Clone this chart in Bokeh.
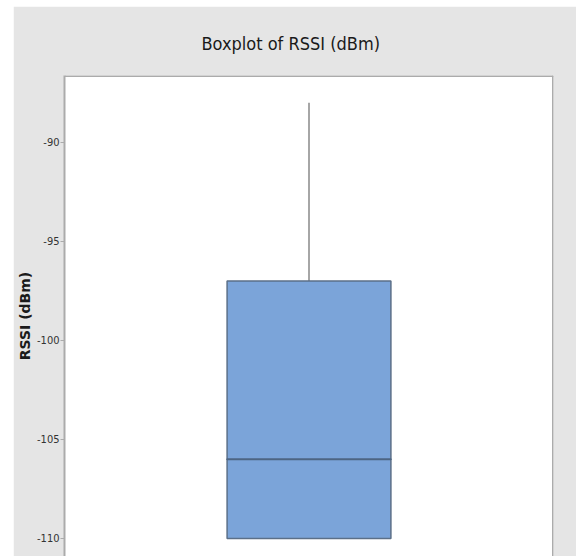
from bokeh.plotting import figure
from bokeh.models import Range1d, FixedTicker, Span, ColumnDataSource, PrintfTickFormatter
from bokeh.embed import file_html
from bokeh.resources import INLINE

# Data
title_text = "Boxplot of RSSI (dBm)"
category = ["RSSI (dBm)"]
q1 = [-110.0]
median = [-106.0]
q3 = [-97.0]
whisker_low = [-110.0]
whisker_high = [-88.0]
y_ticks = [-110, -105, -100, -95, -90]

BG = "#e5e5e5"
BORDER = "#ababab"
NARROW = "'DejaVu Sans Condensed', 'Liberation Sans Narrow', 'Roboto Condensed', 'Liberation Sans', sans-serif"

p = figure(width=563, height=550, output_backend="svg", toolbar_location=None,
           margin=(6, 0, 0, 13),
           x_range=Range1d(0, 1), y_range=Range1d(-110.91, -86.62),
           min_border_left=51, min_border_right=23, min_border_top=69, min_border_bottom=0,
           title=title_text)

p.background_fill_color = "white"
p.border_fill_color = BG
p.outline_line_color = None
p.xgrid.visible = False
p.ygrid.visible = False
p.xaxis.visible = False

p.title.align = "left"
p.title.offset = 137
p.title.text_font = NARROW
p.title.text_font_size = "18px"
p.title.text_font_style = "normal"
p.title.text_color = "#1a1a1a"
p.title.standoff = 44

ax = p.yaxis[0]
ax.ticker = FixedTicker(ticks=y_ticks)
ax.formatter = PrintfTickFormatter(format="%d")
ax.axis_label = "RSSI (dBm)"
ax.axis_label_text_font = "DejaVu Sans"
ax.axis_label_text_font_style = "bold"
ax.axis_label_text_font_size = "14px"
ax.axis_label_text_color = "#1a1a1a"
ax.axis_label_standoff = 1
ax.major_label_text_font = NARROW
ax.major_label_text_font_size = "11px"
ax.major_label_text_color = "#333333"
ax.major_label_standoff = 1
ax.major_tick_in = 0
ax.major_tick_out = 4
ax.major_tick_line_color = BORDER
ax.minor_tick_line_color = None
ax.axis_line_color = BORDER
ax.axis_line_width = 2

# plot frame borders (top and right)
p.add_layout(Span(location=p.y_range.end, dimension="width", line_color=BORDER, line_width=3))
p.add_layout(Span(location=p.x_range.end, dimension="height", line_color=BORDER, line_width=3))

xpos = [0.5]
src = ColumnDataSource(dict(x=xpos, q1=q1, q3=q3, med=median, lo=whisker_low, hi=whisker_high))

# whiskers
p.segment(x0="x", y0="q3", x1="x", y1="hi", source=src, line_color="#6b6b6b", line_width=1.2)
p.segment(x0="x", y0="lo", x1="x", y1="q1", source=src, line_color="#6b6b6b", line_width=1.2)
# box
p.vbar(x="x", width=0.335, top="q3", bottom="q1", source=src,
       fill_color="#7ba4d9", line_color="#5b6f88", line_width=1.5)
# median
p.rect(x="x", y="med", width=0.335, height=0.0001, source=src,
       fill_color=None, line_color="#4d6583", line_width=2)

open("out.html", "w").write(file_html(p, INLINE))
